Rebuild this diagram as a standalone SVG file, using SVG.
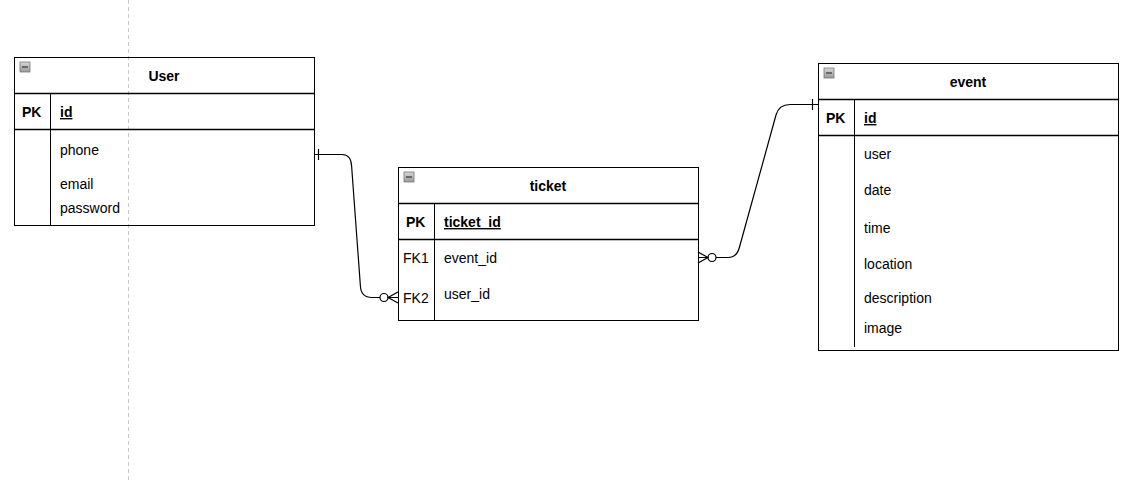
<svg xmlns="http://www.w3.org/2000/svg" width="1146" height="481" viewBox="0 0 1146 481">
<style>
.box{fill:#fff;stroke:#000;stroke-width:1}
.ln{stroke:#000;stroke-width:1;fill:none}
.sep{stroke:#000;stroke-width:1.3;fill:none}
.t{font-family:"Liberation Sans",Arial,sans-serif;font-size:14px;fill:#000}
.b{font-weight:bold}
.title{font-family:"Liberation Sans",Arial,sans-serif;font-size:14px;font-weight:bold;text-anchor:middle}
.conn{stroke:#000;stroke-width:1.2;fill:none}
</style>
<defs>
<linearGradient id="g" x1="0" y1="0" x2="0" y2="1"><stop offset="0" stop-color="#d8d8d8"/><stop offset="1" stop-color="#9a9a9a"/></linearGradient>
<g id="icon"><rect x="0" y="0" width="10" height="10" fill="url(#g)" stroke="#777" stroke-width="0.8"/><line x1="2" y1="5" x2="8" y2="5" stroke="#333" stroke-width="1.2"/></g>
</defs>
<rect width="1146" height="481" fill="#fff"/>
<line x1="128.5" y1="0" x2="128.5" y2="481" stroke="#c8c8c8" stroke-width="1" stroke-dasharray="4,3"/>

<g id="user">
<rect class="box" x="14.5" y="57.5" width="300" height="168" style="fill:none"/>
<line class="sep" x1="14" y1="93.5" x2="315" y2="93.5"/>
<line class="sep" x1="14" y1="129.5" x2="315" y2="129.5"/>
<line class="ln" x1="50.5" y1="94" x2="50.5" y2="225"/>
<use href="#icon" x="20" y="62"/>
<text class="title" x="164" y="81">User</text>
<text class="t b" x="22" y="117">PK</text>
<text class="t b" x="60" y="117" text-decoration="underline">id</text>
<text class="t" x="60" y="155">phone</text>
<text class="t" x="60" y="189">email</text>
<text class="t" x="60" y="213">password</text>
</g>

<g id="ticket">
<rect class="box" x="398.5" y="167.5" width="300" height="153"/>
<line class="sep" x1="398" y1="203.5" x2="699" y2="203.5"/>
<line class="sep" x1="398" y1="239.5" x2="699" y2="239.5"/>
<line class="ln" x1="434.5" y1="204" x2="434.5" y2="321"/>
<use href="#icon" x="404" y="172"/>
<text class="title" x="548" y="191">ticket</text>
<text class="t b" x="406" y="227">PK</text>
<text class="t b" x="444" y="227" text-decoration="underline">ticket_id</text>
<text class="t" x="403" y="263">FK1</text>
<text class="t" x="444" y="263">event_id</text>
<text class="t" x="403" y="303">FK2</text>
<text class="t" x="444" y="299">user_id</text>
</g>

<g id="event">
<rect class="box" x="818.5" y="63.5" width="300" height="287"/>
<line class="sep" x1="818" y1="99.5" x2="1119" y2="99.5"/>
<line class="sep" x1="818" y1="135.5" x2="1119" y2="135.5"/>
<line class="ln" x1="854.5" y1="100" x2="854.5" y2="347"/>
<use href="#icon" x="824" y="68"/>
<text class="title" x="968" y="87">event</text>
<text class="t b" x="826" y="123">PK</text>
<text class="t b" x="864" y="123" text-decoration="underline">id</text>
<text class="t" x="864" y="159">user</text>
<text class="t" x="864" y="195">date</text>
<text class="t" x="864" y="233">time</text>
<text class="t" x="864" y="269">location</text>
<text class="t" x="864" y="303">description</text>
<text class="t" x="864" y="333">image</text>
</g>

<g id="connectors">
<path class="conn" d="M314,154.5 L342,154.5 Q351,154.5 351.6,166 L360.4,286 Q361,297.5 372,297.5 L380,297.5"/>
<line class="conn" x1="318.5" y1="149" x2="318.5" y2="160"/>
<circle cx="384" cy="297.5" r="4" fill="#fff" stroke="#000" stroke-width="1.2"/>
<path class="conn" d="M398,292 L388,297.5 L398,303 M388,297.5 L398,297.5"/>

<path class="conn" d="M716,257.5 L728,257.5 Q737,257.5 739.5,247 L776,115 Q779,104.5 790,104.5 L818,104.5"/>
<line class="conn" x1="812.5" y1="99" x2="812.5" y2="110"/>
<circle cx="712" cy="257.5" r="4" fill="#fff" stroke="#000" stroke-width="1.2"/>
<path class="conn" d="M698,252 L708,257.5 L698,263 M698,257.5 L708,257.5"/>
</g>
</svg>
